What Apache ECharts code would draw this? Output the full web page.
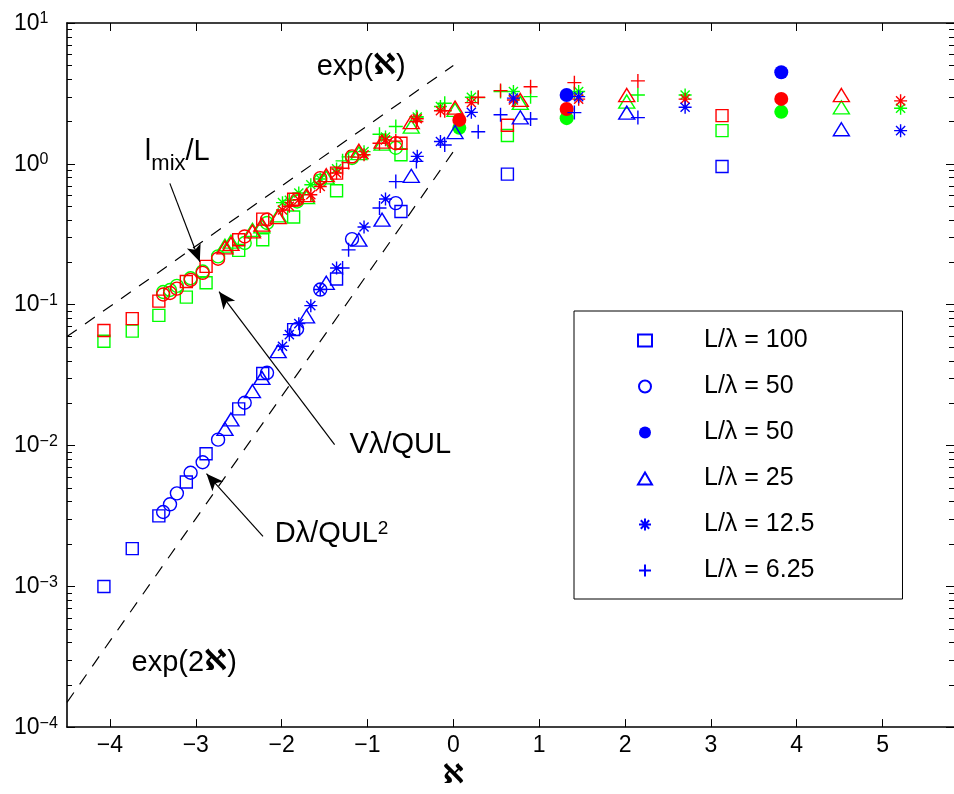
<!DOCTYPE html>
<html>
<head>
<meta charset="utf-8">
<script src="https://cdn.jsdelivr.net/npm/echarts@6/dist/echarts.min.js"></script>
<style>
  html, body { margin: 0; padding: 0; background: #fff; }
  #chart { width: 954px; height: 794px; }
</style>
</head>
<body>
<div id="chart"></div>
<script>
// ---- axes ----
const xMin = -4.5, xMax = 5.832;
const yMin = 1e-4, yMax = 10;
const xTicks = [-4, -3, -2, -1, 0, 1, 2, 3, 4, 5];
const yDecadeExps = [-4, -3, -2, -1, 0, 1];
const yDecadeLabels = ['\u22124', '\u22123', '\u22122', '\u22121', '0', '1'];
const minorFactors = [2, 3, 4, 5, 6, 7, 8, 9];

// ---- measurements: D = Dλ/QUL², V = Vλ/QUL, M = l_mix/L ----
// L/λ = 100 (open squares)
const sqX = [-4.07, -3.74, -3.43, -3.11, -2.88, -2.50, -2.22, -1.86, -1.36, -0.61, 0.63, 3.13];
const sqD = [0.000996, 0.00185, 0.00316, 0.0055, 0.00873, 0.0182, 0.0324, 0.0665, 0.152, 0.459, 0.845, 0.957];
const sqV = [0.0549, 0.0649, 0.0839, 0.113, 0.143, 0.243, 0.289, 0.419, 0.644, 1.16, 1.59, 1.72];
const sqM = [0.0655, 0.0796, 0.106, 0.146, 0.187, 0.289, 0.405, 0.56, 0.859, 1.40, 1.88, 2.20];

// L/λ = 50 (open circles)
const ciX = [-3.38, -3.30, -3.22, -3.06, -2.92, -2.74, -2.43, -2.17, -1.82, -1.55, -1.18, -0.67];
const ciD = [0.00337, 0.00382, 0.00457, 0.0064, 0.0076, 0.011, 0.0201, 0.0328, 0.0673, 0.128, 0.292, 0.526];
const ciV = [0.123, 0.127, 0.136, 0.154, 0.172, 0.22, 0.274, 0.38, 0.54, 0.76, 1.10, 1.30];
const ciM = [0.118, 0.121, 0.130, 0.150, 0.168, 0.212, 0.305, 0.401, 0.556, 0.792, 1.13, 1.40];

// L/λ = 50 (filled circles)
const dcX = [0.07, 1.32, 3.82];
const dcD = [null, 3.08, 4.47];
const dcV = [1.80, 2.11, 2.34];
const dcM = [2.05, 2.45, 2.89];

// L/λ = 25 (triangles)
const trX = [-2.66, -2.59, -2.34, -2.23, -2.04, -1.71, -1.48, -1.10, -0.83, -0.49, 0.02, 0.78, 2.02, 4.52];
const trD = [0.0131, 0.0153, 0.0243, 0.0302, 0.0467, 0.0826, 0.143, 0.289, 0.401, 0.822, 1.68, 2.14, 2.31, 1.76];
const trV = [0.262, 0.28, 0.34, 0.36, 0.43, 0.58, 0.80, 1.19, 1.39, 1.84, 2.42, 2.71, 2.77, 2.52];
const trM = [0.255, 0.27, 0.331, 0.37, 0.419, 0.60, 0.83, 1.24, 1.44, 1.98, 2.51, 2.84, 3.08, 3.08];

// L/λ = 12.5 (asterisks)
const stX = [-1.99, -1.91, -1.80, -1.66, -1.55, -1.36, -1.04, -0.79, -0.42, -0.15, 0.21, 0.70, 1.46, 2.70, 5.21];
const stD = [0.0506, 0.0612, 0.0733, 0.0984, 0.128, 0.182, 0.356, 0.562, 1.13, 1.44, 2.32, 2.93, 3.0, 2.52, 1.72];
const stV = [0.53, 0.55, 0.62, 0.71, 0.78, 0.92, 1.22, 1.55, 2.15, 2.55, 2.97, 3.26, 3.26, 3.08, 2.48];
const stM = [0.47, 0.50, 0.556, 0.603, 0.69, 0.86, 1.16, 1.48, 2.09, 2.38, 2.72, 2.84, 2.88, 2.88, 2.80];

// L/λ = 6.25 (plus signs)
const plX = [-1.29, -1.22, -0.86, -0.67, -0.43, -0.10, 0.29, 0.55, 0.90, 1.41, 2.15];
const plD = [0.182, 0.245, 0.485, 0.748, 1.04, 1.36, 1.69, 2.23, 2.08, 2.31, 2.13];
const plV = [1.05, 1.12, 1.62, 1.84, 2.16, 2.69, 2.95, 3.26, 3.00, 3.17, 3.08];
const plM = [0.93, 1.02, 1.40, 1.45, 2.00, 2.38, 2.97, 3.31, 3.53, 3.77, 3.88];

// reference slopes exp(ℵ) and exp(2ℵ): end points [ℵ, value]
const slope1 = [[-4.5, 0.0593], [0.0, 5.0]];
const slope2 = [[-4.5, 0.00015], [0.0, 1.22]];

// annotation arrows: [tail, head] in data space
const arrows = [
  [[-3.302, 0.726], [-2.953, 0.2018]],
  [[-1.383, 0.01012], [-2.729, 0.1236]],
  [[-2.217, 0.002265], [-2.875, 0.0063]]
];

// annotation text anchors (left / middle) in data space
const notes = [
  { x: -1.592, y: 4.89,     text: 'exp({a|\u2135})' },
  { x: -3.593, y: 1.213,    text: '{ts|l}{s|mix}{ts|/L}' },
  { x: -1.208, y: 0.01014,  text: 'V\u03bb/QUL' },
  { x: -2.081, y: 0.00236,  text: '{tp|D\u03bb/QUL}{p|2}' },
  { x: -3.748, y: 0.000287, text: 'exp(2{a|\u2135})' }
];

// ---- styling ----
const FONT = '"Liberation Sans", Arial, Helvetica, sans-serif';
const ALEPH_FONT = '"DejaVu Serif", "DejaVu Sans", serif';
const COLOR = { D: '#0000ff', V: '#00ff00', M: '#ff0000' };
const MARKERS = {
  square:   { symbol: 'rect', size: 12, filled: false },
  circle:   { symbol: 'circle', size: 13, filled: false },
  disc:     { symbol: 'circle', size: 14, filled: true },
  triangle: { symbol: 'triangle', size: [16, 13], filled: false },
  star:     { symbol: 'path://M0,-1L0,1M-1,0L1,0M-0.7,-0.7L0.7,0.7M-0.7,0.7L0.7,-0.7', size: 13, filled: false },
  plus:     { symbol: 'path://M0,-1L0,1M-1,0L1,0', size: 14, filled: false }
};

const groups = [
  { marker: 'square',   label: 'L/\u03bb = 100',  x: sqX, D: sqD, V: sqV, M: sqM },
  { marker: 'circle',   label: 'L/\u03bb = 50',   x: ciX, D: ciD, V: ciV, M: ciM },
  { marker: 'disc',     label: 'L/\u03bb = 50 ',  x: dcX, D: dcD, V: dcV, M: dcM },
  { marker: 'triangle', label: 'L/\u03bb = 25',   x: trX, D: trD, V: trV, M: trM },
  { marker: 'star',     label: 'L/\u03bb = 12.5', x: stX, D: stD, V: stV, M: stM },
  { marker: 'plus',     label: 'L/\u03bb = 6.25', x: plX, D: plD, V: plV, M: plM }
];

function scatter(name, xs, ys, color, markerKey) {
  const m = MARKERS[markerKey];
  const data = [];
  xs.forEach((x, i) => { if (ys[i] != null) data.push([x, ys[i]]); });
  return {
    type: 'scatter', name, data,
    symbol: m.symbol, symbolSize: m.size, silent: true, z: 3,
    itemStyle: {
      color: m.filled ? color : 'rgba(0,0,0,0)',
      borderColor: color,
      borderWidth: m.filled ? 0 : 1.4,
      opacity: 1
    },
    emphasis: { disabled: true }
  };
}

const series = [];

// dashed guide lines, with the annotation arrows attached
series.push({
  type: 'line', name: 'exp(\u2135)', data: slope1, symbol: 'none', silent: true, z: 1,
  lineStyle: { color: '#000', width: 1.2, type: [12, 10] },
  markLine: {
    silent: true, z: 6, symbol: ['none', 'arrow'], symbolSize: [11, 17],
    label: { show: false },
    lineStyle: { color: '#000', width: 1.2, type: 'solid' },
    data: arrows.map(a => [{ coord: a[0] }, { coord: a[1] }])
  }
});
series.push({
  type: 'line', name: 'exp(2\u2135)', data: slope2, symbol: 'none', silent: true, z: 1,
  lineStyle: { color: '#000', width: 1.2, type: [12, 10] }
});

// minor log ticks on left and right frame edges
const minorTicks = [];
yDecadeExps.slice(0, -1).forEach(e => minorFactors.forEach(f => minorTicks.push([xMin, f * Math.pow(10, e)])));
series.push({
  type: 'custom', name: 'minor ticks', silent: true, z: 4,
  encode: { x: 0, y: 1 },
  data: minorTicks,
  renderItem: (params, api) => {
    const p = api.coord([api.value(0), api.value(1)]);
    const cs = params.coordSys;
    const y = Math.round(p[1]) + 0.5;
    return {
      type: 'group',
      children: [
        { type: 'line', shape: { x1: cs.x, y1: y, x2: cs.x + 5, y2: y }, style: { stroke: '#000', lineWidth: 1 } },
        { type: 'line', shape: { x1: cs.x + cs.width - 5, y1: y, x2: cs.x + cs.width, y2: y }, style: { stroke: '#000', lineWidth: 1 } }
      ]
    };
  }
});

// data points: green, red, then blue (blue entries carry the legend)
groups.forEach(g => series.push(scatter('V\u03bb/QUL, ' + g.label, g.x, g.V, COLOR.V, g.marker)));
groups.forEach(g => series.push(scatter('l_mix/L, ' + g.label, g.x, g.M, COLOR.M, g.marker)));
groups.forEach(g => series.push(scatter(g.label, g.x, g.D, COLOR.D, g.marker)));

const axisLine = { show: true, onZero: false, lineStyle: { color: '#000', width: 1.6 } };
const majorTick = { show: true, inside: true, length: 8, lineStyle: { color: '#000', width: 1 } };

const option = {
  animation: false,
  backgroundColor: '#fff',
  grid: { left: 67, right: -1, top: 23, bottom: 66 },
  xAxis: [
    {
      type: 'value', position: 'bottom', min: xMin, max: xMax,
      axisLine, splitLine: { show: false },
      axisTick: Object.assign({ customValues: xTicks }, majorTick),
      axisLabel: {
        customValues: xTicks, margin: 7, color: '#000', fontFamily: FONT, fontSize: 23,
        formatter: v => (v < 0 ? '\u2212' + Math.abs(v) : String(v))
      },
      name: '\u2135', nameLocation: 'middle', nameGap: 34,
      nameTextStyle: { color: '#000', fontFamily: ALEPH_FONT, fontWeight: 'bold', fontSize: 27, padding: [0, 114, 0, 0] }
    },
    {
      type: 'value', position: 'top', min: xMin, max: xMax,
      axisLine, splitLine: { show: false },
      axisTick: Object.assign({ customValues: xTicks }, majorTick),
      axisLabel: { show: false }
    }
  ],
  yAxis: [
    {
      type: 'log', logBase: 10, position: 'left', min: yMin, max: yMax,
      axisLine, splitLine: { show: false }, axisTick: majorTick,
      axisLabel: {
        align: 'left', margin: 53, color: '#000', fontFamily: FONT,
        formatter: v => {
          const e = Math.round(Math.log10(v));
          const i = yDecadeExps.indexOf(e);
          return '{b|10}{e|' + (i >= 0 ? yDecadeLabels[i] : e) + '}';
        },
        rich: {
          b: { fontFamily: FONT, fontSize: 23, lineHeight: 24, color: '#000', verticalAlign: 'bottom' },
          e: { fontFamily: FONT, fontSize: 16, lineHeight: 16, color: '#000', verticalAlign: 'top', padding: [0, 0, 16, 0] }
        }
      }
    },
    {
      type: 'log', logBase: 10, position: 'right', min: yMin, max: yMax,
      axisLine: { show: false, onZero: false }, splitLine: { show: false }, axisTick: majorTick,
      axisLabel: { show: false }
    }
  ],
  legend: {
    orient: 'vertical', left: 574, top: 311,
    padding: [17, 88, 16, 63],
    itemGap: 21, itemWidth: 14, itemHeight: 12,
    backgroundColor: '#fff', borderColor: '#000', borderWidth: 1, borderRadius: 0,
    selectedMode: false,
    textStyle: { color: '#000', fontFamily: FONT, fontSize: 25, padding: [0, 0, 0, 47] },
    data: groups.map(g => g.label)
  },
  series
};

const chart = echarts.init(document.getElementById('chart'), null, { renderer: 'canvas' });
chart.setOption(option);

// annotation labels placed from their data-space anchors
const noteRich = {
  a:  { fontFamily: ALEPH_FONT, fontWeight: 'bold', fontSize: 29, color: '#000' },
  ts: { fontFamily: FONT, fontSize: 29, lineHeight: 29, color: '#000', verticalAlign: 'top' },
  s:  { fontFamily: FONT, fontSize: 22, lineHeight: 22, color: '#000', verticalAlign: 'top', padding: [15, 0, 0, 0] },
  tp: { fontFamily: FONT, fontSize: 29, lineHeight: 29, color: '#000', verticalAlign: 'bottom' },
  p:  { fontFamily: FONT, fontSize: 19, lineHeight: 20, color: '#000', verticalAlign: 'top', padding: [0, 0, 16, 0] }
};
const graphics = notes.map(n => {
  const p = chart.convertToPixel({ xAxisIndex: 0, yAxisIndex: 0 }, [n.x, n.y]);
  return {
    type: 'text', x: p[0], y: p[1], z: 10, silent: true,
    style: {
      text: n.text, fill: '#000', font: '29px ' + FONT,
      align: 'left', verticalAlign: 'middle', rich: noteRich
    }
  };
});
chart.setOption({ graphic: graphics });
</script>
</body>
</html>
